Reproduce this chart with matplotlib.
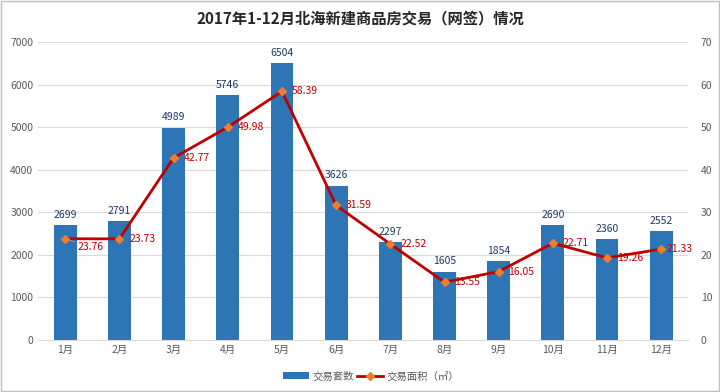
import numpy as np
import matplotlib
matplotlib.use("Agg")
from matplotlib import pyplot as plt
from matplotlib.lines import Line2D
from matplotlib.patches import Patch

plt.rcParams['font.family'] = ['Noto Sans CJK SC', 'DejaVu Sans']

months = ["1月", "2月", "3月", "4月", "5月", "6月", "7月", "8月", "9月", "10月", "11月", "12月"]
units = [2699, 2791, 4989, 5746, 6504, 3626, 2297, 1605, 1854, 2690, 2360, 2552]
area = [23.76, 23.73, 42.77, 49.98, 58.39, 31.59, 22.52, 13.55, 16.05, 22.71, 19.26, 21.33]

bar_color = '#2E75B6'
line_color = '#C00000'
marker_color = '#ED7D31'
tick_color = '#595959'

fig = plt.figure(figsize=(7.2, 3.92), dpi=100)
ax = fig.add_axes([0.053, 0.133, 0.903, 0.760])
ax2 = ax.twinx()

x = np.arange(len(months))
ax.bar(x, units, width=0.42, color=bar_color, zorder=2)
for xi, v in zip(x, units):
    ax.text(xi, v + 120, str(v), ha='center', va='bottom', fontsize=7.5, color='#1F3864')

ax.set_ylim(0, 7000)
ax.set_yticks(np.arange(0, 7001, 1000))
ax.set_xlim(-0.5, 11.5)
ax.set_xticks(x)
ax.set_xticklabels(months)
ax.grid(axis='y', color='#D9D9D9', linewidth=0.8, zorder=0)
ax.set_axisbelow(True)

ax2.plot(x, area, color=line_color, linewidth=2, marker='D', markersize=4,
         markerfacecolor=marker_color, markeredgecolor=marker_color, zorder=3)
for xi, v in zip(x, area):
    if xi == 0:
        ax2.annotate(f"{v:.2f}", (xi, v), xytext=(9, -6), textcoords='offset points',
                     ha='left', va='center', fontsize=7.5, color=line_color,
                     arrowprops=dict(arrowstyle='-', color='#A6A6A6', lw=0.6,
                                     shrinkA=0, shrinkB=2))
    else:
        dx = 4 if xi == len(x) - 1 else 7
        ax2.annotate(f"{v:.2f}", (xi, v), xytext=(dx, 0), textcoords='offset points',
                     ha='left', va='center', fontsize=7.5, color=line_color)
ax2.set_ylim(0, 70)
ax2.set_yticks(np.arange(0, 71, 10))

for a in (ax, ax2):
    for s in a.spines.values():
        s.set_visible(False)
    a.tick_params(length=0, labelsize=7.5, labelcolor=tick_color)
ax2.tick_params(axis='y', pad=9)
ax.spines['bottom'].set_visible(True)
ax.spines['bottom'].set_color('#D9D9D9')

fig.text(0.5, 0.954, "2017年1-12月北海新建商品房交易（网签）情况", ha='center', va='center',
         fontsize=11, fontweight='bold', color='#262626')

handles = [Patch(facecolor=bar_color, label='交易套数'),
           Line2D([], [], color=line_color, linewidth=2, marker='D', markersize=4,
                  markerfacecolor=marker_color, markeredgecolor=marker_color, label='交易面积（㎡）')]
fig.legend(handles=handles, loc='center', bbox_to_anchor=(0.515, 0.04), ncol=2, frameon=False,
           fontsize=7.5, handlelength=2.5, columnspacing=0.3, handletextpad=0.3, labelcolor=tick_color)

border = plt.Rectangle((0.002, 0.003), 0.996, 0.994, transform=fig.transFigure, fill=False,
                       edgecolor='#BFBFBF', linewidth=1)
fig.patches.append(border)

fig.savefig("out.png", dpi=100)
